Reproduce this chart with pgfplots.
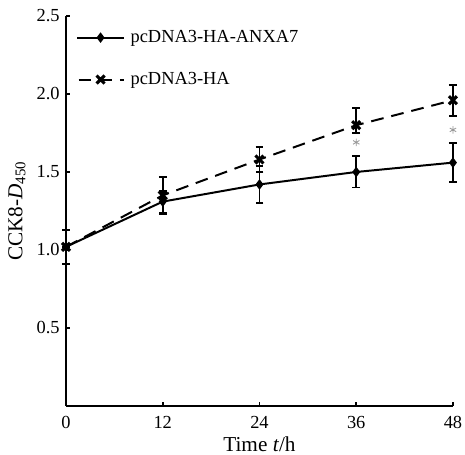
\documentclass[border=0pt]{standalone}
\usepackage{fontspec}
\setmainfont{Liberation Serif}
\usepackage{pgfplots}
\pgfplotsset{compat=1.18}

\begin{document}
\begin{tikzpicture}
\begin{axis}[
    name=ax,
    scale only axis,
    width=273.2pt, height=275.3pt,
    xmin=0, xmax=48, ymin=0, ymax=2.5,
    axis x line=bottom, axis y line=left,
    axis line style={-, line width=1.3pt},
    xtick={0,12,24,36,48},
    ytick={0.5,1.0,1.5,2.0,2.5},
    yticklabel style={/pgf/number format/fixed, /pgf/number format/fixed zerofill, /pgf/number format/precision=1},
    /pgf/number format/assume math mode=true,
    tick align=inside,
    major tick length=2.5pt,
    tick style={line width=1.1pt, black},
    ticklabel style={font=\fontsize{13}{15}\selectfont},
    xticklabel style={yshift=-4pt},
    yticklabel style={xshift=-1pt},
    clip=false,
    xlabel={Time \textit{t}/h},
    ylabel={CCK8-\textit{D}\textsubscript{450}},
    label style={font=\fontsize{15}{18}\selectfont},
    xlabel style={at={(axis description cs:0.5,0)}, anchor=base, yshift=-32.5pt},
    ylabel style={at={(axis description cs:-0.127,0.5)}, anchor=center},
    legend style={draw=none, fill=none, at={(axis description cs:0,1)}, anchor=north west,
        xshift=4pt, yshift=-6pt, row sep=15.5pt, font=\fontsize{13}{15}\selectfont,
        /tikz/every odd column/.append style={column sep=2pt}},
    legend cell align=left,
    legend image code/.code={\draw[mark repeat=2, mark phase=2, dash phase=-1pt, #1] plot coordinates {(0pt,0pt) (16.5pt,0pt) (33pt,0pt)};},
]

% pcDNA3-HA-ANXA7 (solid)
\addplot[black, line width=1.4pt, mark=diamond*, mark size=2.6pt, mark options={solid},
    error bars/.cd, y dir=both, y explicit, error mark=|,
    error bar style={line width=1.3pt, solid},
    error mark options={mark size=2.8pt, line width=1.3pt, solid}]
coordinates {
    (0,1.02) +- (0,0.11)
    (12,1.31) +- (0,0.07)
    (24,1.42) +- (0,0.12)
    (36,1.50) +- (0,0.10)
    (48,1.56) +- (0,0.125)
};

% pcDNA3-HA (dashed)
\addplot[black, line width=1.4pt, dash pattern=on 9pt off 5.6pt, mark=x, mark size=4pt,
    mark options={solid, line width=2.2pt},
    error bars/.cd, y dir=both, y explicit, error mark=|,
    error bar style={line width=1.3pt, solid},
    error mark options={mark size=2.8pt, line width=1.3pt, solid}]
coordinates {
    (0,1.02) +- (0,0)
    (12,1.35) +- (0,0.12)
    (24,1.58) +- (0,0.08)
    (36,1.80) += (0,0.11) -= (0,0.05)
    (48,1.96) +- (0,0.10)
};

% significance asterisks
\addplot[only marks, mark=asterisk, mark size=2.6pt, color=gray!80, mark options={line width=0.6pt}, forget plot]
coordinates {(36,1.69) (48,1.77)};

\legend{pcDNA3-HA-ANXA7, pcDNA3-HA}
\end{axis}
\pgfresetboundingbox
\path[use as bounding box] ([xshift=-46.6pt, yshift=-34.6pt]ax.south west) rectangle ([xshift=8.5pt, yshift=11.3pt]ax.north east);
\end{tikzpicture}
\end{document}
